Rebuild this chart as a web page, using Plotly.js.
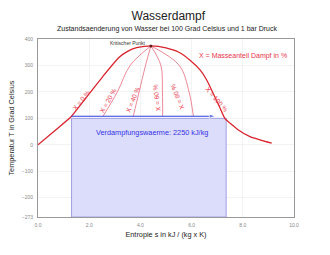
<!DOCTYPE html>
<html><head><meta charset="utf-8">
<script src="https://cdn.plot.ly/plotly-3.0.1.min.js"></script>
<style>html,body{margin:0;padding:0;background:#fff}#c{width:330px;height:255px}</style>
</head><body><div id="c"></div>
<script>
// Saturation dome
var domeS = [0, 0.7, 1.29, 1.87, 2.53, 3.16, 3.5, 3.85, 4.15, 4.41, 4.7, 5.0, 5.5, 5.94, 6.33, 6.59, 7.1, 7.3, 7.8, 8.28, 9.13];
var domeT = [0, 57, 106, 177, 258, 330, 353, 367, 372, 374, 372, 366, 350, 320, 283, 245, 141, 100, 58, 31, 6];
// Quality lines X = 20/40/60/80 %
var qualT = [374, 300, 200, 108];
var q20S = [4.41, 3.6, 3.1, 2.54];
var q40S = [4.41, 4.2, 3.95, 3.72];
var q60S = [4.41, 4.8, 4.86, 4.87];
var q80S = [4.41, 5.52, 5.9, 6.07];
// Evaporation at 100 °C
var evapS = [1.31, 7.35];
var evapT = 100;
var arrowS = [1.31, 6.95];
var arrowT = [108, 108];
var critS = [4.41], critT = [374];
// labels
var labTexts = ["X = 0 %", "X = 20 %", "X = 40 %", "X = 60 %", "X = 80 %", "X = 100 %"];
var labS = [1.68, 2.72, 3.7, 4.65, 5.43, 7.0];
var labT = [167, 169, 172, 177, 180, 173];
var labAng = [-52, -60, -68, -97, -112, 49];
var xTicks = [0, 2, 4, 6, 8, 10];
var xTickText = ["0.0", "2.0", "4.0", "6.0", "8.0", "10.0"];
var yTicks = [400, 300, 200, 100, 0, -100, -200, -273];

var red = "#d9232e";
var traces = [
  {x: [evapS[0], evapS[0], evapS[1], evapS[1], evapS[0]], y: [-273, evapT, evapT, -273, -273],
   mode: "lines", fill: "toself", fillcolor: "#dcdcfb", line: {color: "#a0a0e2", width: 1}, hoverinfo: "skip"},
  {x: domeS, y: domeT, mode: "lines", line: {color: red, width: 1.3, shape: "spline", smoothing: 0.5}},
  {x: q20S, y: qualT, mode: "lines", line: {color: "#e4566a", width: 0.7, shape: "spline"}},
  {x: q40S, y: qualT, mode: "lines", line: {color: "#e4566a", width: 0.7, shape: "spline"}},
  {x: q60S, y: qualT, mode: "lines", line: {color: "#e4566a", width: 0.7, shape: "spline"}},
  {x: q80S, y: qualT, mode: "lines", line: {color: "#e4566a", width: 0.7, shape: "spline"}},
  {x: arrowS, y: arrowT, mode: "lines+markers", line: {color: "#2b3fe0", width: 1.2},
   marker: {symbol: "arrow", angleref: "previous", size: [0, 7], color: "#2b3fe0"}},
  {x: critS, y: critT, mode: "markers", marker: {color: "#602020", size: 3}}
];

var ann = [];
for (var i = 0; i < labTexts.length; i++) {
  ann.push({x: labS[i], y: labT[i], xref: "x", yref: "y", text: labTexts[i], showarrow: false,
    textangle: labAng[i], font: {family: "Liberation Sans, Arial", size: 6.5, color: "#e8334a"}});
}
ann.push({x: 8.0, y: 334, xref: "x", yref: "y", text: "X = Masseanteil Dampf in %", showarrow: false,
  font: {family: "Liberation Sans, Arial", size: 7, color: "#e8334a"}});
ann.push({x: critS[0] - 0.1, y: 384, xref: "x", yref: "y", text: "Kritischer Punkt", showarrow: false,
  xanchor: "right", font: {family: "Liberation Sans, Arial", size: 5, color: "#333"}});
ann.push({x: 4.45, y: 45, xref: "x", yref: "y", text: "Verdampfungswaerme: 2250 kJ/kg", showarrow: false,
  font: {family: "Liberation Sans, Arial", size: 7.3, color: "#3434e8"}});
ann.push({x: 0.505, y: (217 - 29) / 178, xref: "paper", yref: "paper", yanchor: "middle", xanchor: "center",
  text: "Zustandsaenderung von Wasser bei 100 Grad Celsius und 1 bar Druck", showarrow: false,
  font: {family: "Liberation Sans, Arial", size: 7, color: "#222"}});

var layout = {
  width: 330, height: 255,
  margin: {l: 38, r: 36, t: 39, b: 38},
  paper_bgcolor: "#fff", plot_bgcolor: "#fff",
  showlegend: false,
  font: {family: "Liberation Sans, Arial", color: "#333"},
  title: {text: "Wasserdampf", x: 0.51, xanchor: "center", y: 1 - 16/255, yanchor: "middle",
    font: {family: "Liberation Sans, Arial", size: 12, color: "#222"}},
  xaxis: {range: [0, 10], tickvals: xTicks, ticktext: xTickText, showgrid: true, gridcolor: "#eeeeee", gridwidth: 0.7,
    zeroline: false, showline: true, linecolor: "#999", linewidth: 1, mirror: true, ticks: "",
    tickfont: {size: 5, color: "#888"}, ticklabelstandoff: 3,
    title: {text: "Entropie s in kJ / (kg x K)", standoff: 4, font: {size: 7.3, color: "#222"}}},
  yaxis: {range: [-273, 400], tickvals: yTicks, showgrid: true, gridcolor: "#eeeeee", gridwidth: 0.7,
    zeroline: false, showline: true, linecolor: "#999", linewidth: 1, mirror: true, ticks: "",
    tickfont: {size: 5, color: "#888"}, ticklabelstandoff: 3,
    title: {text: "Temperatur T in Grad Celsius", standoff: 6, font: {size: 7.3, color: "#222"}}},
  annotations: ann
};
Plotly.newPlot("c", traces, layout, {staticPlot: true, displayModeBar: false});
</script></body></html>
